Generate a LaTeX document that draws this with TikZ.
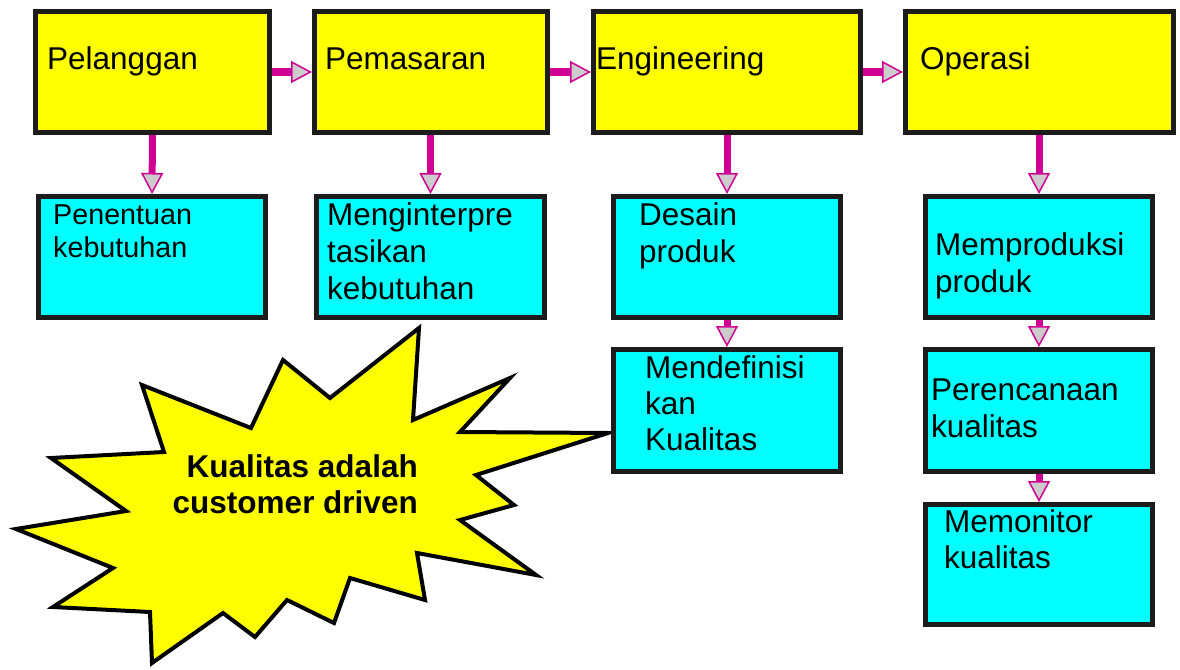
\documentclass[tikz,border=0pt]{standalone}
\usepackage{fontspec}
\setmainfont{Liberation Sans}
\usetikzlibrary{arrows.meta}
\definecolor{boxyellow}{RGB}{255,255,0}
\definecolor{boxcyan}{RGB}{0,255,255}
\definecolor{edgegray}{RGB}{28,28,28}
\definecolor{flowmag}{RGB}{208,0,148}
\definecolor{tipgray}{RGB}{204,204,204}

\begin{document}
\begin{tikzpicture}[x=1pt,y=-1pt,
  stagebox/.style={draw=edgegray, line width=5pt, fill=boxyellow, inner sep=0pt,
    anchor=north west, minimum height=121pt},
  taskbox/.style={draw=edgegray, line width=5pt, fill=boxcyan, inner sep=0pt,
    anchor=north west, minimum width=227pt, minimum height=121pt},
  % multi-line texts are placed by the baseline of their last line
  boxtext/.style={anchor=base west, inner sep=0pt, align=left,
    font=\fontsize{31.5}{37}\selectfont},
  flow/.style={draw=flowmag, line width=7pt,
    -{Triangle[length=21pt,width=22pt,fill=tipgray,line width=1.5pt]}},
]
\useasboundingbox (0,0) rectangle (1180,669);

% burst shape with its slogan
\draw[line width=4pt, fill=boxyellow, line join=miter, miter limit=20]
  (419,328) -- (413,420) -- (510,378) -- (460,432) -- (608,433) -- (476,475)
  -- (514,505) -- (460,520) -- (536,575) -- (417,553) -- (425,600) -- (350,578)
  -- (334,623) -- (287,600) -- (255,637) -- (223,613) -- (152,663) -- (150,612)
  -- (53,607) -- (113,568) -- (16,529) -- (126,511) -- (51,458) -- (164,452)
  -- (142,385) -- (251,428) -- (283,360) -- (330,398) -- cycle;
\node[anchor=base east, inner sep=0pt, align=right,
  font=\bfseries\fontsize{31.5}{36}\selectfont] (slogan) at (418,513)
  {Kualitas adalah\\customer driven};

% top row: departments
\node[stagebox, minimum width=234pt] (pel) at (33,9) {};
\node[stagebox, minimum width=233pt] (pem) at (312,9) {};
\node[stagebox, minimum width=267pt] (eng) at (591,9) {};
\node[stagebox, minimum width=268pt] (ops) at (903,9) {};

% lower boxes: activities
\node[taskbox] (pen) at (36,194) {};
\node[taskbox, minimum width=228pt] (int) at (314,194) {};
\node[taskbox] (des) at (611,194) {};
\node[taskbox, minimum height=122pt] (def) at (611,347) {};
\node[taskbox] (pro) at (923,194) {};
\node[taskbox, minimum height=122pt] (ren) at (923,347) {};
\node[taskbox, minimum height=120pt] (mon) at (923,502) {};

% texts
\node[boxtext] (tpel) at (47,70) {Pelanggan};
\node[boxtext] (tpem) at (325,70) {Pemasaran};
\node[boxtext] (teng) at (596,70) {Engineering};
\node[boxtext] (tops) at (920,70) {Operasi};
\node[boxtext, font=\fontsize{28.7}{33}\selectfont] (tpen) at (53,257) {Penentuan\\kebutuhan};
\node[boxtext] (tint) at (327,299) {Menginterpre\\tasikan\\kebutuhan};
\node[boxtext] (tdes) at (639,262) {Desain\\produk};
\node[boxtext, font=\fontsize{31.5}{36}\selectfont] (tdef) at (645,450) {Mendefinisi\\kan\\Kualitas};
\node[boxtext] (tpro) at (935,292) {Memproduksi\\produk};
\node[boxtext] (tren) at (931,437) {Perencanaan\\kualitas};
\node[boxtext, font=\fontsize{31.5}{36}\selectfont] (tmon) at (944,568) {Memonitor\\kualitas};

% connectors
\draw[flow] (pel.east) -- (pem.west);
\draw[flow] (pem.east) -- (eng.west);
\draw[flow] (eng.east) -- (ops.west);
\draw[flow] (pel.south) -- (pen.north);
\draw[flow] (pem.south -| int.north) -- (int.north);
\draw[flow] (eng.south) -- (des.north);
\draw[flow] (ops.south -| pro.north) -- (pro.north);
\draw[flow] (des.south) -- (def.north);
\draw[flow] (pro.south) -- (ren.north);
\draw[flow] (ren.south) -- (mon.north);
\end{tikzpicture}
\end{document}
